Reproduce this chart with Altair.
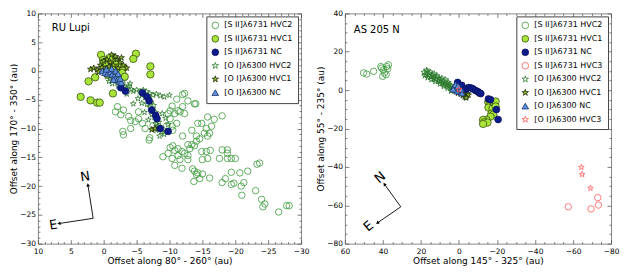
import altair as alt
import pandas as pd

# ---------------- series names ----------------
S2_HVC2 = "[S II]λ6731 HVC2"
S2_HVC1 = "[S II]λ6731 HVC1"
S2_NC = "[S II]λ6731 NC"
S2_HVC3 = "[S II]λ6731 HVC3"
O1_HVC2 = "[O I]λ6300 HVC2"
O1_HVC1 = "[O I]λ6300 HVC1"
O1_NC = "[O I]λ6300 NC"
O1_HVC3 = "[O I]λ6300 HVC3"

# ---------------- RU Lupi data (au) ----------------
ru_s2_hvc2_x = [-12.3, -12.8, -14.0, -11.1, -12.0, -10.4, -10.1, -11.3, -10.8, -9.8, -10.1, -11.1, -9.6, -10.4,
                -12.0, -11.6, -12.3, -13.8, -18.0, -15.8, -16.8, -14.3, -14.9, -15.6, -16.4, -13.4, -14.1, -15.3,
                -16.1, -15.8, -10.5,
                -1.8, -3.0, -2.6, -2.1, -4.1, -3.8, -5.3, -5.3, -4.8, -5.9, -2.9, -3.0, -4.1, -7.0, -6.3, -7.5,
                -6.9, -9.0, -9.8, -10.1, -10.5, -11.3, -11.9, -12.3, -12.8, -13.1, -13.4, -14.1, -14.6, -12.8,
                -10.8, -11.3, -11.6, -10.8, -11.9, -10.4, -12.8, -12.0, -13.8, -14.9, -15.6, -16.2, -15.0, -15.8,
                -17.6, -18.0, -18.8, -18.8, -18.8, -19.4, -20.0, -13.5, -13.8, -14.3, -14.1, -15.0, -14.6, -13.7,
                -16.1, -18.0, -18.5, -19.4, -20.7, -21.9, -19.4, -19.8, -20.9, -21.3, -21.0, -23.1, -23.3, -23.7,
                -24.0, -24.5, -24.2, -26.6, -27.8, -28.2]
ru_s2_hvc2_y = [-3.9, -5.2, -5.7, -4.9, -4.1, -6.1, -6.9, -6.9, -7.4, -7.4, -8.3, -9.1, -9.5, -9.6,
                -6.2, -7.1, -7.4, -5.7, -7.8, -8.0, -8.4, -9.1, -9.1, -10.0, -9.6, -10.3, -11.3, -10.8,
                -10.8, -11.3, -10.3,
                -7.1, -6.8, -7.6, -6.2, -8.6, -7.9, -8.3, -7.1, -8.8, -9.1, -10.5, -11.1, -10.0, -11.6, -10.0, -9.5,
                -12.0, -14.9, -14.3, -13.3, -13.0, -13.5, -14.0, -14.3, -14.7, -13.5, -12.8, -12.2, -11.8, -12.8,
                -13.8, -14.7, -15.4, -16.4, -16.9, -15.2, -15.4, -11.3, -13.0, -14.0, -14.0, -13.8, -15.4, -15.2,
                -15.2, -13.7, -13.7, -14.3, -15.2, -15.2, -15.2, -17.0, -17.4, -17.7, -18.0, -17.9, -18.7, -19.2,
                -18.6, -19.4, -18.7, -17.6, -17.7, -17.4, -19.7, -19.5, -20.0, -19.4, -21.6, -20.8, -16.2, -16.0,
                -22.3, -23.1, -23.6, -24.5, -23.4, -23.4]

ru_s2_hvc1_x = [0.4, 0.1, -1.3, -1.7, -4.9, -4.5, -7.1, -7.1, 2.3, 1.3, 3.5, 2.0, 1.0, 0.6, -1.4, -2.6, -2.4, -1.8,
                0.0, -0.5, -1.0, -1.5, -2.0, -0.3, -1.0, -2.5, -3.0, -0.8, -2.8, -3.2, -2.0, -0.6]
ru_s2_hvc1_y = [2.8, 1.9, 2.4, 1.9, 3.0, 2.1, 0.8, -0.6, -1.8, -1.1, -4.5, -5.1, -5.5, -5.5, -3.9, 0.2, -0.4, -0.7,
                1.5, 1.0, 1.8, 0.8, 1.3, 0.3, 0.0, 0.8, 0.5, 2.2, -0.3, -1.0, -1.1, -0.6]

ru_s2_nc_x = [-2.6, -3.3, -5.9, -6.6, -6.9, -7.3, -7.9, -8.1, -8.6, -9.8]
ru_s2_nc_y = [-2.9, -3.5, -3.8, -4.5, -5.2, -6.8, -7.7, -8.3, -10.0, -10.5]

ru_o1_hvc2_x = [-0.5, -1.0, -1.5, -2.0, -0.8, -1.3, -2.5, -2.8, -3.2, -3.5, -2.2, -3.8, -4.2, -4.5, -5.0, -5.5,
                -6.0, -6.5, -7.0, -7.5, -8.0, -8.6, -9.2, -10.0, -5.8, -6.3, -6.8, -7.2, -6.6, -7.0, -7.6, -7.4,
                -7.9, -7.3, -7.7, -8.1, -8.4, -7.9, -8.3, -8.7, -8.0, -8.8, -9.2, -8.5, -9.5, -6.2, -6.8, -4.5,
                -5.2, -3.5, -8.9, -9.4, -1.8, -0.3, -3.0, -4.0, -9.8, -5.8]
ru_o1_hvc2_y = [-1.0, -1.3, -1.5, -1.8, -1.8, -2.2, -2.0, -2.5, -2.8, -3.0, -2.6, -2.6, -3.2, -3.5, -3.3, -3.6,
                -3.3, -3.6, -3.9, -4.2, -4.0, -4.3, -4.5, -4.2, -4.2, -4.6, -4.9, -5.4, -5.8, -6.3, -6.0, -6.8,
                -7.2, -7.6, -8.0, -8.4, -8.9, -9.2, -9.6, -9.9, -10.3, -10.6, -11.0, -11.3, -10.4, -7.2, -8.5, -5.7,
                -4.8, -4.0, -7.4, -8.2, -0.8, -0.5, -1.8, -2.2, -9.3, -5.6]

ru_o1_hvc1_x = [2.0, 1.5, 1.0, 0.5, 0.0, -0.5, -1.0, -1.5, -2.0, -2.5, -3.0, -0.3, 0.8, -1.8, -3.5, -0.8, -2.2,
                0.3, -7.3, -7.8, -1.2, -2.7]
ru_o1_hvc1_y = [0.3, 0.5, 0.2, 1.0, 1.7, 2.0, 1.5, 1.0, 2.0, 1.5, 1.0, 0.3, -0.2, 2.5, 0.5, 0.8, 0.5,
                0.6, -10.2, -10.0, 2.8, 2.3]

ru_o1_nc_x = [0.2, -0.2, -0.6, -1.0, -1.3, -1.6, -1.9, -2.1, -2.4, -2.7, -1.2, -1.8, -2.2, -0.4, -1.5, -2.5]
ru_o1_nc_y = [0.0, -0.3, -0.5, -0.2, -0.6, -0.9, -1.2, -1.5, -1.8, -2.0, 0.4, 0.0, -0.5, 0.3, -1.5, -1.3]

# ---------------- AS 205 N data (au) ----------------
as_s2_hvc2_x = [50.2, 48.5, 44.9, 41.1, 39.7, 38.0, 37.1, 40.1, 38.3, 40.6, 37.5, 39.2]
as_s2_hvc2_y = [9.0, 8.4, 9.8, 12.3, 10.6, 12.3, 13.2, 7.2, 8.1, 11.5, 11.1, 9.0]

as_s2_hvc1_x = [-15.4, -16.5, -18.5, -19.3, -15.5, -17.6, -19.3, -17.1, -18.1, -16.6, -14.5, -12.7, -13.3, -15.0, -12.7]
as_s2_hvc1_y = [-6.2, -7.3, -6.7, -5.9, -9.1, -9.6, -8.5, -12.2, -12.7, -13.8, -15.5, -15.5, -16.7, -16.9, -17.6]

as_s2_nc_x = [0.7, -1.5, -3.6, -5.0, -6.2, -7.5, -8.9, -10.0, -10.8, -11.5, -15.5, -16.6, -19.7, -20.6]
as_s2_nc_y = [4.0, 2.5, 0.5, 1.3, 1.2, 0.6, -0.3, -0.8, -1.5, -1.8, -4.6, -5.0, -10.1, -15.3]

as_s2_hvc3_x = [-57.5, -69.5, -73.0, -73.4]
as_s2_hvc3_y = [-60.8, -61.9, -56.0, -59.9]

as_o1_hvc2_x = [18.5, 17.5, 16.8, 16.0, 15.5, 14.8, 14.0, 13.5, 13.0, 12.2, 11.8, 11.0, 10.5, 10.0, 9.5, 8.8,
                8.2, 7.8, 7.2, 6.5, 6.0, 5.5, 5.0, 4.5, 4.0, 3.5, 3.0, 2.5, 2.0, 1.5, 17.0, 15.0, 13.0, 11.5,
                9.0, 14.5, 12.5, 10.0, 8.0, 6.0, 4.2, 16.5, 18.0, 7.0, 5.5]
as_o1_hvc2_y = [9.3, 8.2, 9.8, 7.5, 8.8, 6.8, 7.8, 6.0, 7.2, 5.5, 6.8, 4.8, 6.0, 4.2, 5.5, 3.6,
                4.8, 2.8, 4.0, 2.5, 3.5, 1.8, 3.0, 1.2, 2.2, 0.5, 1.6, -0.2, 1.0, -0.8, 10.5, 9.5, 8.5, 7.5,
                6.3, 5.5, 4.5, 3.2, 2.0, 1.0, -0.5, 6.5, 7.5, 5.5, 4.0]

as_o1_hvc1_x = [-1.5, -2.5, -3.5, -4.0, -3.0, -2.0, -4.5, -1.0, -2.8, -5.0, 0.5, -3.8]
as_o1_hvc1_y = [-1.0, -1.5, -2.0, -3.0, -3.5, -2.8, -1.8, -2.0, -0.5, -2.5, -1.5, -4.0]

as_o1_nc_x = [2.5, 1.5, 0.5, -0.5, -1.5, 2.0, 1.0, 0.0, 3.0, -1.0, 1.8, 0.5]
as_o1_nc_y = [2.0, 1.0, 0.0, -0.8, -1.5, 0.5, -0.5, 1.5, 0.5, 0.5, 2.8, 2.2]

as_o1_hvc3_x = [-64.4, -64.8, -69.2, 0.0]
as_o1_hvc3_y = [-40.2, -43.9, -51.1, 0.3]

# ---------------- compass (origin, N tip, E tip) and labels ----------------
ru_compass_x0 = [1.6, 1.6]
ru_compass_y0 = [-25.6, -25.6]
ru_compass_x1 = [2.4, 6.8]
ru_compass_y1 = [-19.8, -26.5]
ru_compass_dir = [351, 261]
ru_compass_lbl = ["N", "E"]
ru_compass_lx = [2.8, 7.65]
ru_compass_ly = [-18.4, -26.8]
ru_compass_rot = [351, 351]

as_compass_x0 = [30.6, 30.6]
as_compass_y0 = [-60.8, -60.8]
as_compass_x1 = [39.2, 42.9]
as_compass_y1 = [-49.0, -69.2]
as_compass_dir = [325, 234]
as_compass_lbl = ["N", "E"]
as_compass_lx = [41.5, 47.6]
as_compass_ly = [-45.6, -70.9]
as_compass_rot = [320, 320]

# ---------------- axes ticks / titles ----------------
ru_xticks = [10, 5, 0, -5, -10, -15, -20, -25, -30]
ru_yticks = [10, 5, 0, -5, -10, -15, -20, -25, -30]
as_xticks = [60, 40, 20, 0, -20, -40, -60, -80]
as_yticks = [40, 20, 0, -20, -40, -60, -80]

# ---------------- styles ----------------
STAR = ("M0,-1L0.2245,-0.309L0.951,-0.309L0.363,0.118L0.588,0.809L0,0.382"
        "L-0.588,0.809L-0.363,0.118L-0.951,-0.309L-0.2245,-0.309Z")
STYLE = {
    S2_HVC2: dict(shape="circle", fill="transparent", stroke="#3f9a3f", size=42),
    S2_HVC1: dict(shape="circle", fill="#a9e43a", stroke="#3a5510", size=55),
    S2_NC: dict(shape="circle", fill="#0c1a8a", stroke="#0a1460", size=46),
    S2_HVC3: dict(shape="circle", fill="transparent", stroke="#ff5c5c", size=42),
    O1_HVC2: dict(shape=STAR, fill="transparent", stroke="#2c7a2c", size=36),
    O1_HVC1: dict(shape=STAR, fill="#8fba2e", stroke="#1c2a08", size=40),
    O1_NC: dict(shape="triangle-up", fill="#5b8fdc", stroke="#1e3466", size=44),
    O1_HVC3: dict(shape=STAR, fill="transparent", stroke="#ff5c5c", size=36),
}
DRAW_ORDER = [S2_HVC2, O1_HVC2, S2_HVC1, O1_HVC1, S2_NC, O1_NC, S2_HVC3, O1_HVC3]

FONT = "DejaVu Sans"


def axis(orient, values, title=None, labels=False, minor=False):
    pad = 4 if orient in ("bottom", "top") else 2.5
    return alt.Axis(
        orient=orient, values=values, title=title, labels=labels, domain=False, grid=False,
        ticks=True, tickSize=2 if minor else 4, offset=-2 if minor else -4,
        tickColor="#444", tickWidth=0.7, labelFontSize=7.5, labelColor="black",
        labelPadding=pad, labelFlush=False, labelOverlap=False, labelFont=FONT,
        titleFontSize=9, titleFontWeight="normal", titleColor="black", titleFont=FONT,
        titlePadding=1.5,
    )


def panel(series, legend_order, xdom, ydom, xticks, yticks, xminor, yminor, xtitle, ytitle,
          name, name_xy, comp, width, height):
    rows = []
    for z, s in enumerate(DRAW_ORDER):
        if s not in series:
            continue
        xs, ys = series[s]
        for a, b in zip(xs, ys):
            rows.append(dict(x=a, y=b, series=s, sz=STYLE[s]["size"], z=z))
    df = pd.DataFrame(rows)

    xsc = alt.Scale(domain=xdom, nice=False, zero=False)
    ysc = alt.Scale(domain=ydom, nice=False, zero=False)

    leg = alt.Legend(title=None, orient="top-right", offset=3, padding=5, strokeColor="#444",
                     fillColor="white", labelFontSize=8, labelFont=FONT, labelColor="black",
                     rowPadding=3.5, symbolStrokeWidth=0.8, symbolSize=45, labelOffset=5,
                     cornerRadius=0, labelLimit=300)

    pts = alt.Chart(df).mark_point(filled=True, strokeWidth=0.8, opacity=1).encode(
        x=alt.X("x:Q", scale=xsc, axis=axis("bottom", xticks, xtitle, labels=True)),
        y=alt.Y("y:Q", scale=ysc, axis=axis("left", yticks, ytitle, labels=True)),
        shape=alt.Shape("series:N", scale=alt.Scale(domain=legend_order,
                        range=[STYLE[s]["shape"] for s in legend_order]), legend=leg),
        fill=alt.Fill("series:N", scale=alt.Scale(domain=legend_order,
                      range=[STYLE[s]["fill"] for s in legend_order]), legend=leg),
        stroke=alt.Stroke("series:N", scale=alt.Scale(domain=legend_order,
                          range=[STYLE[s]["stroke"] for s in legend_order]), legend=leg),
        size=alt.Size("sz:Q", scale=None),
        order=alt.Order("z:Q"),
    )

    name_df = pd.DataFrame({"x": [name_xy[0]], "y": [name_xy[1]], "t": [name]})
    title_layer = alt.Chart(name_df).mark_text(align="left", baseline="middle", fontSize=10,
                                               font=FONT, color="black").encode(
        x=alt.X("x:Q", scale=xsc, axis=axis("top", xticks)),
        y=alt.Y("y:Q", scale=ysc, axis=axis("right", yticks)),
        text="t:N",
    )

    cdf = pd.DataFrame({"x0": comp["x0"], "y0": comp["y0"], "x1": comp["x1"], "y1": comp["y1"],
                        "dir": comp["dir"]})
    shafts = alt.Chart(cdf).mark_rule(color="black", strokeWidth=0.9).encode(
        x=alt.X("x0:Q", scale=xsc, axis=axis("bottom", xminor, minor=True)),
        y=alt.Y("y0:Q", scale=ysc, axis=axis("left", yminor, minor=True)),
        x2="x1:Q", y2="y1:Q",
    )
    heads = alt.Chart(cdf).mark_point(shape="triangle-up", filled=True, color="black", size=14,
                                      opacity=1).encode(
        x=alt.X("x1:Q", scale=xsc, axis=axis("top", xminor, minor=True)),
        y=alt.Y("y1:Q", scale=ysc, axis=axis("right", yminor, minor=True)),
        angle=alt.Angle("dir:Q", scale=None),
    )
    ldf = pd.DataFrame({"x": comp["lx"], "y": comp["ly"], "t": comp["lbl"], "rot": comp["rot"]})
    letters = alt.Chart(ldf).mark_text(fontSize=13, font=FONT, color="black", align="center",
                                       baseline="middle").encode(
        x=alt.X("x:Q", scale=xsc, axis=None),
        y=alt.Y("y:Q", scale=ysc, axis=None),
        text="t:N",
        angle=alt.Angle("rot:Q", scale=None),
    )

    return alt.layer(pts, title_layer, shafts, heads, letters).resolve_axis(
        x="independent", y="independent").properties(width=width, height=height)


ru_series = {
    S2_HVC2: (ru_s2_hvc2_x, ru_s2_hvc2_y),
    S2_HVC1: (ru_s2_hvc1_x, ru_s2_hvc1_y),
    S2_NC: (ru_s2_nc_x, ru_s2_nc_y),
    O1_HVC2: (ru_o1_hvc2_x, ru_o1_hvc2_y),
    O1_HVC1: (ru_o1_hvc1_x, ru_o1_hvc1_y),
    O1_NC: (ru_o1_nc_x, ru_o1_nc_y),
}
as_series = {
    S2_HVC2: (as_s2_hvc2_x, as_s2_hvc2_y),
    S2_HVC1: (as_s2_hvc1_x, as_s2_hvc1_y),
    S2_NC: (as_s2_nc_x, as_s2_nc_y),
    S2_HVC3: (as_s2_hvc3_x, as_s2_hvc3_y),
    O1_HVC2: (as_o1_hvc2_x, as_o1_hvc2_y),
    O1_HVC1: (as_o1_hvc1_x, as_o1_hvc1_y),
    O1_NC: (as_o1_nc_x, as_o1_nc_y),
    O1_HVC3: (as_o1_hvc3_x, as_o1_hvc3_y),
}

ru_minor_x = [v for v in range(-30, 11) if v % 5 != 0]
ru_minor_y = [v for v in range(-30, 11) if v % 5 != 0]
as_minor_x = [v for v in range(-80, 61, 5) if v % 20 != 0]
as_minor_y = [v for v in range(-80, 41, 5) if v % 20 != 0]

left = panel(
    ru_series, [S2_HVC2, S2_HVC1, S2_NC, O1_HVC2, O1_HVC1, O1_NC],
    [10, -30], [-30, 10], ru_xticks, ru_yticks, ru_minor_x, ru_minor_y,
    "Offset along 80° - 260°  (au)", "Offset along 170° - 350° (au)",
    "RU Lupi", (7.9, 7.5),
    dict(x0=ru_compass_x0, y0=ru_compass_y0, x1=ru_compass_x1, y1=ru_compass_y1, dir=ru_compass_dir,
         lx=ru_compass_lx, ly=ru_compass_ly, lbl=ru_compass_lbl, rot=ru_compass_rot),
    264, 231,
)
right = panel(
    as_series, [S2_HVC2, S2_HVC1, S2_NC, S2_HVC3, O1_HVC2, O1_HVC1, O1_NC, O1_HVC3],
    [60, -80], [-80, 40], as_xticks, as_yticks, as_minor_x, as_minor_y,
    "Offset along 145° - 325°  (au)", "Offset along 55° - 235° (au)",
    "AS 205 N", (55.3, 31.6),
    dict(x0=as_compass_x0, y0=as_compass_y0, x1=as_compass_x1, y1=as_compass_y1, dir=as_compass_dir,
         lx=as_compass_lx, ly=as_compass_ly, lbl=as_compass_lbl, rot=as_compass_rot),
    267, 231,
)

chart = alt.hconcat(left, right, spacing=44, bounds="flush").resolve_scale(
    x="independent", y="independent", shape="independent", fill="independent", stroke="independent"
).resolve_legend(
    shape="independent", fill="independent", stroke="independent"
).properties(padding=0).configure(font=FONT).configure_view(stroke="#888", strokeWidth=1)

chart.save("out.html", embed_options={"renderer": "svg", "actions": False})
